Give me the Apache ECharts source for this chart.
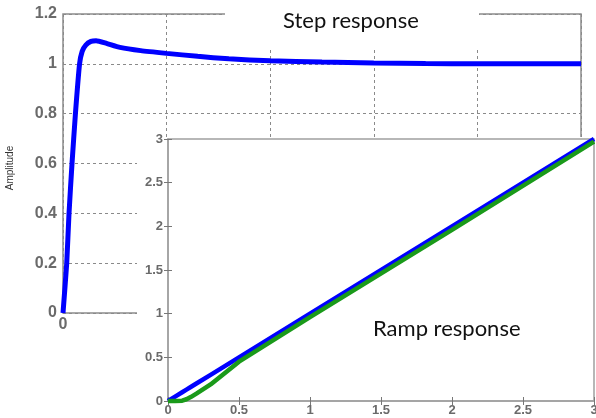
<!DOCTYPE html>
<html>
<head>
<meta charset="utf-8">
<script src="https://cdn.jsdelivr.net/npm/echarts@6/dist/echarts.min.js"></script>
<style>html,body{margin:0;padding:0;background:#fff}#c{width:596px;height:418px}</style>
</head>
<body>
<div id="c"></div>
<script>
// Step response (main chart)
const stepTime = [0, 0.036, 0.058, 0.087, 0.12, 0.16, 0.185, 0.22, 0.27, 0.32, 0.42, 0.55, 0.75, 1.0, 1.3, 1.6, 2.0, 2.5, 3.0, 3.5, 4.0, 5.0];
const stepAmp  = [0, 0.2, 0.4, 0.6, 0.8, 1.0, 1.05, 1.075, 1.09, 1.093, 1.082, 1.066, 1.053, 1.042, 1.03, 1.02, 1.012, 1.007, 1.003, 1.001, 1.0, 1.0];
// Ramp response (inset)
const rampTime  = [0, 0.05, 0.1, 0.13, 0.16, 0.2, 0.3, 0.5, 1.0, 2.0, 3.0];
const rampInput = [0, 0.05, 0.1, 0.13, 0.16, 0.2, 0.3, 0.5, 1.0, 2.0, 3.0];
const rampOut   = [0, 0.0, 0.004, 0.02, 0.045, 0.085, 0.19, 0.45, 0.96, 1.96, 2.97];
const stepYTicks = [0, 0.2, 0.4, 0.6, 0.8, 1, 1.2];
const rampTicks = [0, 0.5, 1, 1.5, 2, 2.5, 3];

const pair = (xs, ys) => xs.map((x, i) => [x, ys[i]]);
const lab = '#6a6a6a';
const dash = {show: true, lineStyle: {color: '#8a8a8a', type: [3, 3], width: 1}};
const fmt = ticks => v => String(ticks.find(t => Math.abs(t - v) < 1e-6) ?? v);

const chart = echarts.init(document.getElementById('c'));
chart.setOption({
  animation: false,
  grid: [
    {left: 63, top: 14, width: 518, height: 299, show: true, borderColor: '#8c8c8c', borderWidth: 1.5,
     backgroundColor: 'transparent', z: 0, outerBoundsMode: 'none', containLabel: false},
    {left: 168, top: 139, width: 426, height: 262, show: true, borderColor: '#a0a0a0', borderWidth: 1.5,
     backgroundColor: 'transparent', z: 15, outerBoundsMode: 'none', containLabel: false}
  ],
  graphic: [
    {type: 'rect', z: 10, shape: {x: 137, y: 137, width: 470, height: 290}, style: {fill: '#fff'}},
    {type: 'rect', z: 10, shape: {x: 225, y: 0, width: 254, height: 48}, style: {fill: '#fff'}},
    {type: 'text', z: 30, left: 283, top: 10, style: {text: 'Step response', font: '22px Lato', fill: '#111'}},
    {type: 'text', z: 30, left: 373, top: 318, style: {text: 'Ramp response', font: '22px Lato', fill: '#111'}},
    {type: 'text', z: 30, x: 10, y: 168, rotation: Math.PI / 2, style: {text: 'Amplitude', font: '10px Arial', fill: '#333', align: 'center', verticalAlign: 'middle'}}
  ],
  xAxis: [
    {type: 'value', gridIndex: 0, min: 0, max: 5, interval: 1, z: 1,
     axisLine: {show: false}, axisTick: {show: false}, splitLine: dash,
     axisLabel: {margin: 4, color: lab, fontWeight: 'bold', fontSize: 16, fontFamily: 'Arial',
       formatter: v => v === 0 ? '0' : ''}},
    {type: 'value', gridIndex: 1, min: 0, max: 3, interval: 0.5, z: 16,
     axisLine: {show: true, lineStyle: {color: '#a0a0a0', width: 1.5}},
     axisTick: {show: true, inside: true, length: 4, lineStyle: {color: '#777'}},
     splitLine: {show: false},
     axisLabel: {margin: 3, color: lab, fontWeight: 'bold', fontSize: 13, fontFamily: 'Arial', formatter: fmt(rampTicks)}},
    {type: 'value', gridIndex: 1, position: 'top', min: 0, max: 3, interval: 0.5, z: 16,
     axisLine: {show: false}, axisTick: {show: true, inside: true, length: 4, lineStyle: {color: '#777'}},
     splitLine: {show: false}, axisLabel: {show: false}}
  ],
  yAxis: [
    {type: 'value', gridIndex: 0, min: 0, max: 1.2, interval: 0.2, z: 1,
     axisLine: {show: false}, axisTick: {show: false}, splitLine: dash,
     axisLabel: {margin: 6, color: lab, fontWeight: 'bold', fontSize: 16, fontFamily: 'Arial', formatter: fmt(stepYTicks)}},
    {type: 'value', gridIndex: 1, min: 0, max: 3, interval: 0.5, z: 16,
     axisLine: {show: true, lineStyle: {color: '#a0a0a0', width: 1.5}},
     axisTick: {show: true, inside: true, length: 4, lineStyle: {color: '#777'}},
     splitLine: {show: false},
     axisLabel: {margin: 5, color: lab, fontWeight: 'bold', fontSize: 13, fontFamily: 'Arial', formatter: fmt(rampTicks)}},
    {type: 'value', gridIndex: 1, position: 'right', min: 0, max: 3, interval: 0.5, z: 16,
     axisLine: {show: false}, axisTick: {show: true, inside: true, length: 4, lineStyle: {color: '#777'}},
     splitLine: {show: false}, axisLabel: {show: false}}
  ],
  series: [
    {type: 'line', xAxisIndex: 0, yAxisIndex: 0, data: pair(stepTime, stepAmp), showSymbol: false, symbol: 'none',
     smooth: 0.15, lineStyle: {color: '#0000ff', width: 5}, z: 2},
    {type: 'line', xAxisIndex: 1, yAxisIndex: 1, data: pair(rampTime, rampInput), showSymbol: false, symbol: 'none',
     lineStyle: {color: '#0000ff', width: 4.5}, z: 20, clip: false},
    {type: 'line', xAxisIndex: 1, yAxisIndex: 1, data: pair(rampTime, rampOut), showSymbol: false, symbol: 'none',
     lineStyle: {color: '#1a9a1a', width: 4.5}, z: 21, clip: false}
  ]
});
</script>
</body>
</html>
